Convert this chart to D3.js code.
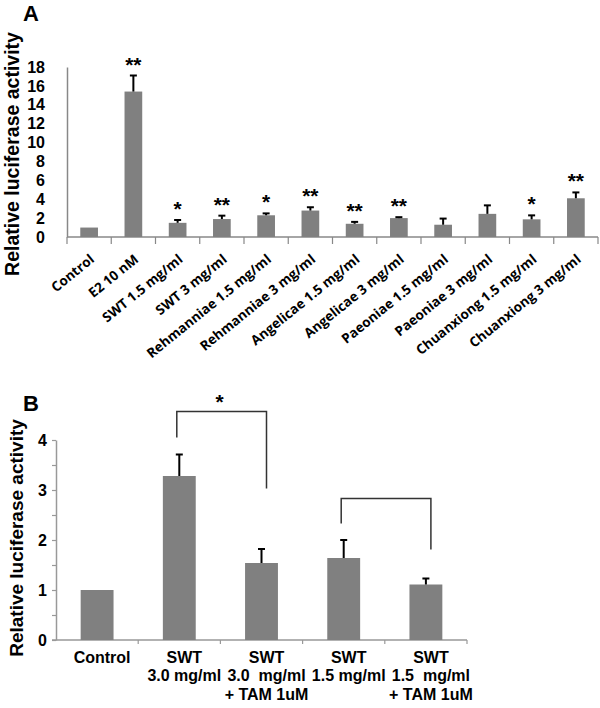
<!DOCTYPE html>
<html><head><meta charset="utf-8">
<script src="https://cdn.jsdelivr.net/npm/d3@7"></script>
<style>
html,body{margin:0;padding:0;background:#fff;}
svg{display:block;}
</style></head>
<body>
<svg id="chart" width="600" height="708"></svg>
<script>
// ---------- Panel A data ----------
const catsA = ["Control","E2 10 nM","SWT 1.5 mg/ml","SWT 3 mg/ml","Rehmanniae 1.5 mg/ml","Rehmanniae 3 mg/ml","Angelicae 1.5 mg/ml","Angelicae 3 mg/ml","Paeoniae 1.5 mg/ml","Paeoniae 3 mg/ml","Chuanxiong 1.5 mg/ml","Chuanxiong 3 mg/ml"];
const valuesA = [1.0, 15.4, 1.5, 1.9, 2.3, 2.8, 1.4, 2.0, 1.3, 2.45, 1.87, 4.1];
const errorsA = [0, 1.7, 0.3, 0.36, 0.2, 0.35, 0.2, 0.1, 0.65, 0.9, 0.42, 0.62];
const starsA  = ["", "**", "*", "**", "*", "**", "**", "**", "", "", "*", "**"];
const ticksA  = [0,2,4,6,8,10,12,14,16,18];

// ---------- Panel B data ----------
const catsB = ["Control","SWT 3.0","SWT 3.0 + TAM","SWT 1.5","SWT 1.5 + TAM"];
const labelsB = [["Control"],["SWT","3.0 mg/ml"],["SWT","3.0  mg/ml","+ TAM 1uM"],["SWT","1.5 mg/ml"],["SWT","1.5  mg/ml","+ TAM 1uM"]];
const valuesB = [1.0, 3.28, 1.54, 1.64, 1.11];
const errorsB = [0, 0.43, 0.28, 0.36, 0.12];
const ticksB  = [0,0.5,1,1.5,2,2.5,3,3.5,4];
const bracketsB = [
  {from:1, to:2, top:4.57, leftEnd:4.05, rightEnd:3.03, label:"*"},
  {from:3, to:4, top:2.83, leftEnd:2.33, rightEnd:1.81, label:""}
];

const svg = d3.select("#chart");
const barColor = "#808080";
const fontAx = "'Liberation Sans', Arial, Helvetica, sans-serif";
const fontCal = "'Open Sans', Lato, sans-serif";

// ================= Panel A =================
const xA = d3.scaleBand().domain(catsA).range([67,598]).paddingInner(0.6).paddingOuter(0.3);
const yA = d3.scaleLinear().domain([0,18]).range([237,67]);
const gA = svg.append("g");

gA.append("text").attr("x",23).attr("y",21).text("A")
  .style("font-family",fontAx).style("font-weight","bold").style("font-size","22px");

gA.append("text").attr("transform","translate(19,154) rotate(-90)")
  .attr("text-anchor","middle").text("Relative luciferase activity")
  .style("font-family",fontAx).style("font-weight","bold").style("font-size","19.5px");

// y axis
const yAxA = gA.append("g").attr("transform","translate(67,0)")
  .call(d3.axisLeft(yA).tickValues(ticksA).tickSize(0).tickPadding(22));
yAxA.select(".domain").attr("stroke","#888").attr("stroke-width",1.5);
yAxA.selectAll("text").style("font-family",fontAx).style("font-weight","bold").style("font-size","16px").attr("fill","#000");

// x axis line and ticks at band boundaries
gA.append("line").attr("x1",xA.range()[0]).attr("x2",xA.range()[1]).attr("y1",yA(0)).attr("y2",yA(0))
  .attr("stroke","#888").attr("stroke-width",1.5);
gA.selectAll(".tkA").data(d3.range(catsA.length+1)).join("line")
  .attr("x1",i=>xA.range()[0]+i*xA.step()).attr("x2",i=>xA.range()[0]+i*xA.step())
  .attr("y1",yA(0)).attr("y2",yA(0)+7).attr("stroke","#888").attr("stroke-width",1.2);

// bars
gA.selectAll(".barA").data(catsA).join("rect")
  .attr("x",d=>xA(d)).attr("width",xA.bandwidth())
  .attr("y",(d,i)=>yA(valuesA[i])).attr("height",(d,i)=>yA(0)-yA(valuesA[i]))
  .attr("fill",barColor);

// error bars
catsA.forEach((c,i)=>{
  if(!errorsA[i]) return;
  const cx = xA(c)+xA.bandwidth()/2;
  gA.append("line").attr("x1",cx).attr("x2",cx).attr("y1",yA(valuesA[i])).attr("y2",yA(valuesA[i]+errorsA[i]))
    .attr("stroke","#000").attr("stroke-width",2);
  gA.append("line").attr("x1",cx-3.5).attr("x2",cx+3.5).attr("y1",yA(valuesA[i]+errorsA[i])).attr("y2",yA(valuesA[i]+errorsA[i]))
    .attr("stroke","#000").attr("stroke-width",2);
});

// stars
gA.selectAll(".starA").data(catsA).join("text")
  .attr("x",d=>xA(d)+xA.bandwidth()/2)
  .attr("y",(d,i)=>yA(valuesA[i]+errorsA[i])-4)
  .attr("text-anchor","middle").text((d,i)=>starsA[i])
  .style("font-family",fontAx).style("font-weight","bold").style("font-size","21px");

// rotated category labels
gA.selectAll(".labA").data(catsA).join("text")
  .attr("transform",d=>`translate(${xA(d)+xA.bandwidth()/2+6},${yA(0)+24}) rotate(-39)`)
  .attr("text-anchor","end").text(d=>d)
  .style("font-family",fontCal).style("font-weight","700").style("font-size","13.5px");

// ================= Panel B =================
const xB = d3.scaleBand().domain(catsB).range([56,467]).paddingInner(0.6).paddingOuter(0.3);
const yB = d3.scaleLinear().domain([0,4]).range([640,440]);
const gB = svg.append("g");

gB.append("text").attr("x",23).attr("y",411).text("B")
  .style("font-family",fontAx).style("font-weight","bold").style("font-size","22px");

gB.append("text").attr("transform","translate(23,538) rotate(-90)")
  .attr("text-anchor","middle").text("Relative luciferase activity")
  .style("font-family",fontAx).style("font-weight","bold").style("font-size","19px");

const yAxB = gB.append("g").attr("transform","translate(56,0)")
  .call(d3.axisLeft(yB).tickValues(ticksB).tickSize(4).tickPadding(5).tickSizeOuter(0)
    .tickFormat(d=>Number.isInteger(d)?d:""));
yAxB.select(".domain").attr("stroke","#999").attr("stroke-width",1.5);
yAxB.selectAll(".tick line").attr("stroke","#999").attr("stroke-width",1.2);
yAxB.selectAll("text").style("font-family",fontAx).style("font-weight","bold").style("font-size","16px").attr("fill","#000");

gB.append("line").attr("x1",xB.range()[0]-4).attr("x2",xB.range()[1]).attr("y1",yB(0)).attr("y2",yB(0))
  .attr("stroke","#999").attr("stroke-width",1.5);
gB.selectAll(".tkB").data(d3.range(1,catsB.length+1)).join("line")
  .attr("x1",i=>xB.range()[0]+i*xB.step()).attr("x2",i=>xB.range()[0]+i*xB.step())
  .attr("y1",yB(0)).attr("y2",yB(0)+4).attr("stroke","#999").attr("stroke-width",1.2);

gB.selectAll(".barB").data(catsB).join("rect")
  .attr("x",d=>xB(d)).attr("width",xB.bandwidth())
  .attr("y",(d,i)=>yB(valuesB[i])).attr("height",(d,i)=>yB(0)-yB(valuesB[i]))
  .attr("fill",barColor);

catsB.forEach((c,i)=>{
  if(!errorsB[i]) return;
  const cx = xB(c)+xB.bandwidth()/2;
  gB.append("line").attr("x1",cx).attr("x2",cx).attr("y1",yB(valuesB[i])).attr("y2",yB(valuesB[i]+errorsB[i]))
    .attr("stroke","#000").attr("stroke-width",2);
  gB.append("line").attr("x1",cx-3.5).attr("x2",cx+3.5).attr("y1",yB(valuesB[i]+errorsB[i])).attr("y2",yB(valuesB[i]+errorsB[i]))
    .attr("stroke","#000").attr("stroke-width",2);
});

// brackets
bracketsB.forEach(b=>{
  const x1 = xB(catsB[b.from])+xB.bandwidth()/2-2.5;
  const x2 = xB(catsB[b.to])+xB.bandwidth()/2+5;
  gB.append("path")
    .attr("d",`M${x1},${yB(b.leftEnd)}V${yB(b.top)}H${x2}V${yB(b.rightEnd)}`)
    .attr("fill","none").attr("stroke","#333").attr("stroke-width",1.5);
  if(b.label){
    gB.append("text").attr("x",(x1+x2)/2-2).attr("y",yB(b.top)-3)
      .attr("text-anchor","middle").text(b.label)
      .style("font-family",fontAx).style("font-weight","bold").style("font-size","21px");
  }
});

// multi-line labels
labelsB.forEach((lines,i)=>{
  const cx = xB(catsB[i])+xB.bandwidth()/2+5;
  const t = gB.append("text").attr("text-anchor","middle").attr("xml:space","preserve")
    .style("white-space","pre")
    .style("font-family",fontAx).style("font-weight","bold").style("font-size","16px");
  lines.forEach((ln,j)=>{
    t.append("tspan").attr("x",cx).attr("y",663+j*18.4).text(ln);
  });
});
</script>
</body></html>
